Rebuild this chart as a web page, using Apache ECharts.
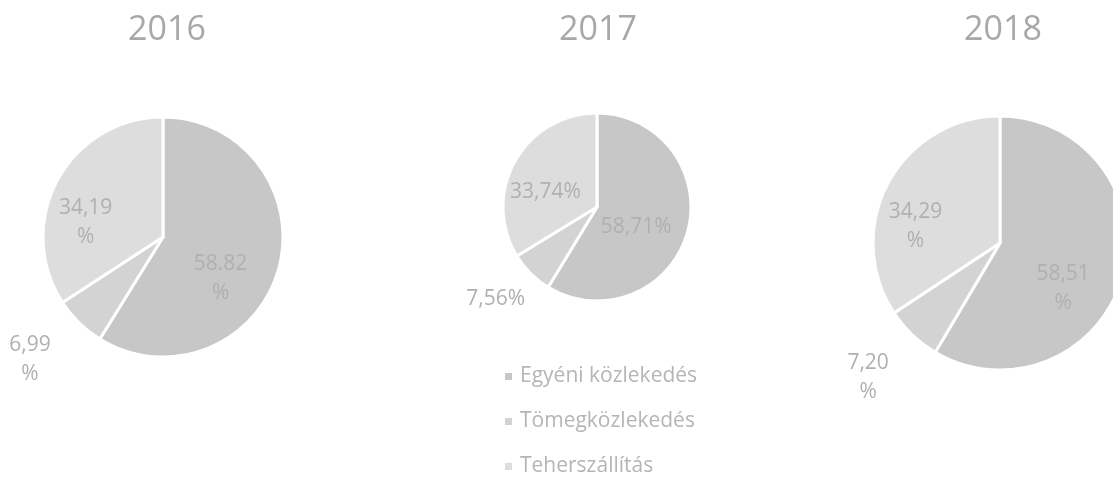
<!DOCTYPE html>
<html>
<head>
<meta charset="utf-8">
<script src="https://cdn.jsdelivr.net/npm/echarts@6/dist/echarts.min.js"></script>
<style>
html,body{margin:0;padding:0;background:#ffffff;}
#c{width:1113px;height:481px;}
</style>
</head>
<body>
<div id="c"></div>
<script>
var categories = ['Egyéni közlekedés', 'Tömegközlekedés', 'Teherszállítás'];
var years = ['2016', '2017', '2018'];
var values2016 = [58.82, 6.99, 34.19];
var values2017 = [58.71, 7.56, 33.74];
var values2018 = [58.51, 7.20, 34.29];
var labels2016 = ['58.82\n%', '6,99\n%', '34,19\n%'];
var labels2017 = ['58,71%', '7,56%', '33,74%'];
var labels2018 = ['58,51\n%', '7,20\n%', '34,29\n%'];

var colors = ['#c7c7c7', '#d3d3d3', '#dddddd'];
var FONT = '"Open Sans", "DejaVu Sans", sans-serif';

var pies = [
  {year: years[0], values: values2016, labels: labels2016, center: [163, 237], r: 120,
   shift: [[-3, 24], [-89, 77], [-22, 16]]},
  {year: years[1], values: values2017, labels: labels2017, center: [597, 207], r: 94,
   shift: [[-9, 7], [-66, 57], [-8, 9]]},
  {year: years[2], values: values2018, labels: labels2018, center: [1000, 243], r: 127,
   shift: [[-1, 28], [-86, 86], [-26, 15]]}
];

var titleX = [162, 593, 998];

var chart = echarts.init(document.getElementById('c'), null, {renderer: 'canvas'});

var series = pies.map(function (p) {
  return {
    type: 'pie',
    name: p.year,
    center: p.center,
    radius: [0, p.r],
    startAngle: 90,
    clockwise: true,
    avoidLabelOverlap: false,
    silent: true,
    animation: false,
    itemStyle: {borderColor: '#ffffff', borderWidth: 3},
    label: {
      show: true,
      position: 'inside',
      color: '#b0b0b0',
      fontFamily: FONT,
      fontSize: 21,
      lineHeight: 29,
      align: 'center',
      formatter: function (params) { return p.labels[params.dataIndex]; }
    },
    labelLine: {show: false},
    labelLayout: function (params) {
      var s = p.shift[params.dataIndex];
      return {dx: s[0], dy: s[1]};
    },
    data: categories.map(function (c, i) {
      return {name: c, value: p.values[i], itemStyle: {color: colors[i]}};
    })
  };
});

var option = {
  backgroundColor: '#ffffff',
  animation: false,
  title: years.map(function (y, i) {
    return {
      text: y,
      left: titleX[i],
      top: 8,
      textAlign: 'center',
      textStyle: {fontFamily: FONT, fontSize: 34, fontWeight: 'normal', color: '#a8a8a8'}
    };
  }),
  legend: {
    orient: 'vertical',
    left: 498,
    top: 361,
    height: 150,
    icon: 'rect',
    itemWidth: 9,
    itemHeight: 9,
    itemGap: 24,
    selectedMode: false,
    data: categories,
    textStyle: {fontFamily: FONT, fontSize: 21, color: '#b5b5b5', padding: [0, 0, 0, 2]}
  },
  series: series
};
chart.setOption(option);
</script>
</body>
</html>
